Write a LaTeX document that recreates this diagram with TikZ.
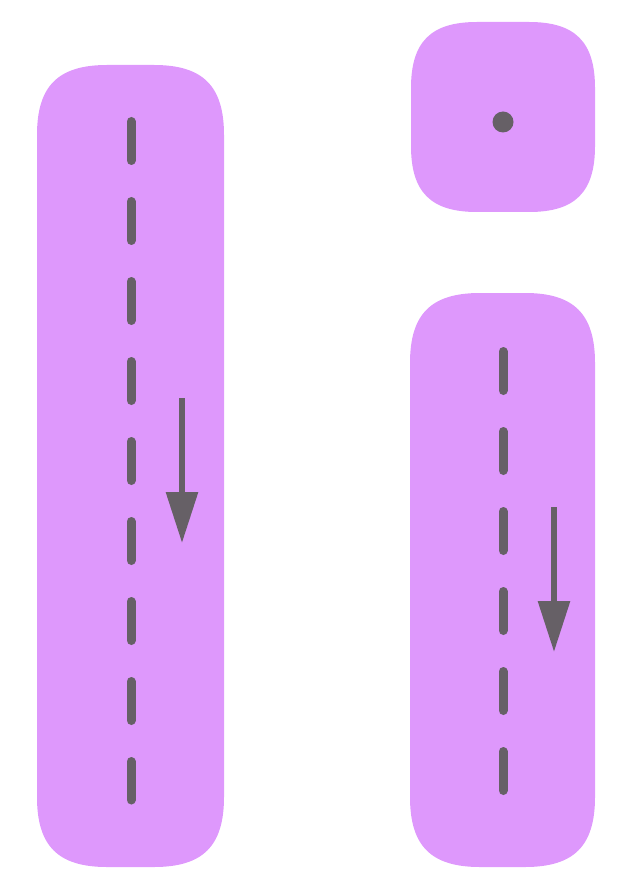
\documentclass[tikz,border=0pt]{standalone}
\usetikzlibrary{arrows.meta}
\definecolor{lilac}{HTML}{DE98FC}
\definecolor{ink}{HTML}{666066}
\newcommand{\sqbox}[5]{% x0 y0 x1 y1 r
  \fill[lilac] (#1+#5,#2) -- (#3-#5,#2)
    .. controls (#3-0.3*#5,#2) and (#3,#2+0.3*#5) .. (#3,#2+#5)
    -- (#3,#4-#5)
    .. controls (#3,#4-0.3*#5) and (#3-0.3*#5,#4) .. (#3-#5,#4)
    -- (#1+#5,#4)
    .. controls (#1+0.3*#5,#4) and (#1,#4-0.3*#5) .. (#1,#4-#5)
    -- (#1,#2+#5)
    .. controls (#1,#2+0.3*#5) and (#1+0.3*#5,#2) .. (#1+#5,#2) -- cycle;}
\tikzset{
  dashline/.style={ink, line width=9pt, line cap=round, dash pattern=on 39pt off 41pt},
  flowarrow/.style={ink, line width=6pt, -{Triangle[length=51pt,width=31pt]}},
  dotmark/.style={circle, fill=ink, inner sep=0pt, minimum size=21pt}
}
\begin{document}
\begin{tikzpicture}[x=1pt,y=-1pt]
\useasboundingbox (0,0) rectangle (622,882);
% shapes
\sqbox{37}{65}{224}{867}{70}
\sqbox{411}{22}{595}{212}{66}
\sqbox{410}{293}{595}{867}{70}
% coordinates
\coordinate (l1) at (131,121.5);
\coordinate (l2) at (131,800);
\coordinate (r1) at (503,351.5);
\coordinate (r2) at (503,791);
\coordinate (la1) at (182,398);
\coordinate (la2) at (182,543);
\coordinate (ra1) at (554,507);
\coordinate (ra2) at (554,652);
% dashed lines
\draw[dashline] (l1) -- (l2);
\draw[dashline] (r1) -- (r2);
% arrows
\draw[flowarrow] (la1) -- (la2);
\draw[flowarrow] (ra1) -- (ra2);
% dot
\node[dotmark] (dot) at (503,122) {};
\end{tikzpicture}
\end{document}
